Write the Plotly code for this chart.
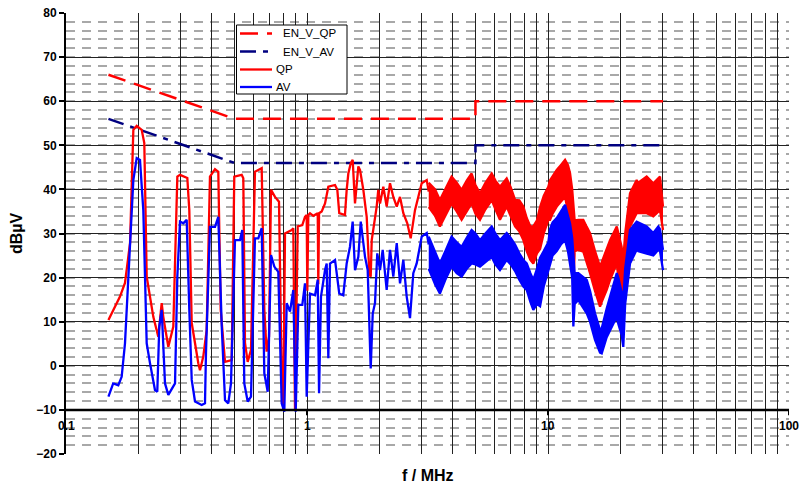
import math
import plotly.graph_objects as go

# ---------------- data ----------------
lim_f = [0.15, 0.5, 5.0, 5.0, 30.0]
en_v_qp = [66, 56, 56, 60, 60]
en_v_av = [56, 46, 46, 50, 50]

# QP measurement, low-frequency part (MHz, dBuV)
qp_f = [0.150, 0.1675, 0.1757, 0.1844, 0.1903, 0.1965, 0.2061, 0.2113, 0.2162, 0.2303,
        0.2415, 0.2495, 0.2533, 0.2658, 0.2788, 0.2897, 0.2972, 0.3187, 0.3248, 0.3324,
        0.3540, 0.3597, 0.3712, 0.3834, 0.3957, 0.4152, 0.4285, 0.4385, 0.4569, 0.4792,
        0.4870, 0.4992, 0.5358, 0.5441, 0.5530, 0.5674, 0.5856, 0.6083, 0.6487, 0.6651,
        0.6800, 0.6956, 0.7090, 0.7366, 0.7653, 0.7852, 0.7974, 0.8104, 0.8640, 0.8775,
        0.8918, 0.9151, 0.9562, 0.981, 0.997, 1.003, 1.0125, 1.029, 1.062, 1.108,
        1.114, 1.122, 1.151, 1.188, 1.214, 1.226, 1.307, 1.336, 1.361, 1.437,
        1.461, 1.484, 1.518, 1.547, 1.582, 1.633, 1.660, 1.713, 1.769, 1.814,
        1.838, 1.856, 1.946, 1.976, 2.009, 2.073, 2.141, 2.210, 2.281, 2.357,
        2.432, 2.510, 2.607, 2.693, 2.806, 2.896, 2.992, 3.139, 3.20]
qp_v = [10.4, 15.7, 18.8, 27.8, 53.5, 54.4, 53.5, 50.5, 20.2, 11.1,
        6.6, 14.2, 11.1, 4.3, 8.9, 42.9, 43.3, 42.6, 35.3, 9.7,
        0.6, -1.0, 2.1, 8.1, 42.9, 44.6, 44.0, 12.7, 0.9, 1.3,
        1.3, 42.9, 43.3, 42.5, 5.2, 0.9, 3.6, 44.0, 44.8, 12.7,
        3.2, 6.6, 39.9, 38.3, 37.2, -2.5, -10.0, 30.0, 30.8, 31.2,
        -10.0, 31.6, 31.9, 33.8, 34.2, 17.0, 34.2, 34.6, 34.0, 34.6,
        18.5, 34.6, 35.0, 36.8, 39.1, 40.6, 41.0, 39.9, 34.6, 34.2,
        39.9, 43.6, 45.9, 46.7, 36.8, 45.2, 44.4, 39.9, 33.8, 21.0,
        20.2, 28.5, 36.1, 39.9, 36.8, 40.6, 36.1, 41.4, 38.3, 36.1,
        38.3, 34.6, 32.3, 28.9, 35.3, 38.3, 41.4, 42.1, 39.5]

# AV measurement, low-frequency part
av_f = [0.150, 0.157, 0.1648, 0.1702, 0.1757, 0.1814, 0.1903, 0.1965, 0.2028, 0.2093,
        0.2162, 0.2231, 0.2340, 0.2392, 0.2438, 0.2495, 0.2575, 0.2658, 0.2746, 0.2834,
        0.2897, 0.2972, 0.3067, 0.3168, 0.3248, 0.3324, 0.3430, 0.3540, 0.3656, 0.3773,
        0.3809, 0.3957, 0.4152, 0.4285, 0.4428, 0.4569, 0.4714, 0.4837, 0.5026, 0.5272,
        0.5389, 0.5493, 0.5674, 0.5856, 0.6083, 0.6280, 0.6487, 0.6651, 0.6870, 0.7090,
        0.7317, 0.7602, 0.7852, 0.8050, 0.8238, 0.8502, 0.8775, 0.8977, 0.9204, 0.9562,
        0.981, 0.997, 1.029, 1.080, 1.108, 1.122, 1.143, 1.188, 1.207, 1.226,
        1.246, 1.307, 1.361, 1.414, 1.461, 1.508, 1.547, 1.582, 1.633, 1.671,
        1.741, 1.786, 1.838, 1.874, 1.915, 1.957, 2.009, 2.061, 2.141, 2.210,
        2.281, 2.357, 2.432, 2.510, 2.592, 2.675, 2.761, 2.852, 2.992, 3.139, 3.20]
av_v = [-7.0, -4.0, -4.4, -2.5, 5.1, 20.2, 42.1, 47.1, 46.7, 35.3,
        5.1, 0.6, -5.5, -5.9, 8.9, 12.7, -4.0, -6.6, -5.1, -4.0,
        20.2, 32.7, 32.3, 33.1, 12.7, -3.2, -8.1, -8.5, -8.9, -8.5,
        2.9, 31.5, 31.5, 33.8, 8.9, -7.8, -8.5, -4.0, 28.5, 28.5,
        30.8, -4.0, -8.1, -7.0, 28.9, 28.9, 31.2, -1.7, -5.9, 25.1,
        22.5, 21.3, -8.5, -10.4, 14.2, 12.3, 17.2, -10.4, 13.8, 13.8,
        18.7, -7.0, 16.4, 16.0, 19.5, -6.2, 15.7, 21.7, 23.2, 1.7,
        23.2, 24.0, 16.4, 16.0, 23.2, 27.0, 32.7, 21.7, 24.7, 32.7,
        24.7, 21.7, -0.6, 11.9, 14.2, 25.5, 21.7, 26.3, 17.2, 26.3,
        20.2, 27.8, 18.7, 24.0, 15.7, 10.8, 21.0, 23.2, 29.3, 30.1, 27.5]

# High-frequency part: dense band, upper / lower envelopes
band_f = [3.20, 3.40, 3.56, 3.75, 3.98, 4.18, 4.38, 4.60, 4.82, 5.00,
          5.22, 5.50, 5.84, 6.05, 6.32, 6.74, 7.00, 7.30, 7.60, 7.90,
          8.16, 8.45, 8.69, 9.00, 9.27, 9.60, 10.03, 10.2, 10.45, 10.87,
          11.3, 11.77, 12.1, 12.34, 12.6, 12.74, 12.9, 13.36, 14.01, 14.48,
          14.94, 15.67, 16.44, 16.71, 17.52, 18.09, 19.29, 19.58, 20.2, 20.53,
          20.9, 21.89, 23.33, 23.70, 25.67, 27.35, 28.69, 29.16, 30.0]
qp_hi = [41.5, 40.0, 37.6, 40.0, 42.9, 41.5, 39.9, 42.0, 43.6, 41.0,
         39.1, 41.5, 43.6, 42.0, 40.6, 42.5, 40.5, 37.6, 37.5, 36.1,
         33.5, 31.6, 31.6, 33.0, 36.0, 38.5, 40.6, 42.1, 43.0, 44.4,
         45.5, 46.7, 45.5, 43.7, 40.0, 36.0, 33.0, 33.1, 33.1, 31.5,
         30.1, 26.0, 22.5, 23.5, 26.3, 28.5, 31.6, 30.0, 27.0, 24.0,
         30.0, 39.1, 42.1, 41.5, 42.9, 41.4, 42.5, 42.9, 36.1]
qp_lo = [36.0, 34.0, 31.6, 34.0, 36.8, 35.0, 33.1, 35.0, 36.8, 34.5,
         33.1, 35.5, 37.6, 35.5, 33.1, 36.1, 34.0, 31.6, 30.5, 28.5,
         26.0, 24.0, 23.2, 25.5, 26.5, 30.0, 33.1, 33.1, 34.5, 36.1,
         37.2, 38.3, 35.0, 32.3, 28.0, 17.9, 26.0, 26.3, 25.9, 23.5,
         21.0, 17.0, 13.4, 14.5, 17.2, 19.5, 23.2, 20.0, 16.0, 13.4,
         22.0, 31.6, 34.6, 34.6, 34.6, 33.9, 35.0, 35.3, 30.8]
av_hi = [29.3, 26.0, 23.2, 26.0, 29.3, 28.0, 27.0, 29.0, 30.8, 30.0,
         28.5, 30.0, 31.6, 30.0, 28.5, 30.1, 29.0, 27.5, 25.5, 24.0,
         23.2, 21.0, 19.5, 22.0, 24.5, 26.0, 28.0, 31.0, 32.5, 33.5,
         35.0, 36.5, 34.0, 32.3, 29.0, 25.0, 21.0, 21.0, 20.0, 19.5,
         17.0, 11.9, 8.1, 8.5, 13.0, 15.7, 21.0, 20.0, 17.0, 15.0,
         22.0, 30.8, 32.7, 32.5, 31.6, 30.1, 31.6, 31.0, 26.3]
av_lo = [22.0, 18.5, 16.4, 19.5, 22.5, 21.0, 20.2, 22.0, 23.2, 23.0,
         22.5, 23.5, 24.7, 23.0, 21.7, 24.0, 23.0, 21.5, 19.5, 18.0,
         17.2, 14.5, 12.7, 14.0, 13.5, 18.0, 22.0, 23.0, 25.0, 26.0,
         27.5, 28.5, 26.0, 23.2, 20.0, 8.9, 14.0, 14.9, 13.0, 11.9,
         10.0, 5.9, 3.0, 2.8, 6.5, 8.1, 11.1, 9.5, 7.0, 4.3,
         14.0, 23.2, 26.3, 26.0, 25.5, 25.0, 26.3, 26.0, 21.7]

y_ticks = [-20, -10, 0, 10, 20, 30, 40, 50, 60, 70, 80]
x_labels = ["0.1", "1", "10", "100"]
x_label_pos = [0.1, 1, 10, 100]
legend_names = ["EN_V_QP", "EN_V_AV", "QP", "AV"]

# ---------------- styling ----------------
RED = "#ff0000"
BLUE = "#0000ff"
NAVY = "#000080"
FONT = "Liberation Sans, Arial, sans-serif"
QP_DASH = "18px,9px"
AV_DASH = "16px,7px,5px,7px"
LW = 2.3

ML, MR, MT, MB = 66, 12, 13, 32
W, H = 801, 486
PW, PH = W - ML - MR, H - MT - MB


def px_x(p):
    return (p - ML) / PW


def px_y(p):
    return (H - MB - p) / PH


fig = go.Figure()
fig.add_trace(go.Scatter(x=lim_f, y=en_v_qp, mode="lines", name=legend_names[0],
                         showlegend=False, line=dict(color=RED, width=2.5, dash=QP_DASH)))
fig.add_trace(go.Scatter(x=lim_f, y=en_v_av, mode="lines", name=legend_names[1],
                         showlegend=False, line=dict(color=NAVY, width=2.5, dash=AV_DASH)))
fig.add_trace(go.Scatter(x=qp_f, y=qp_v, mode="lines", name=legend_names[2],
                         showlegend=False, line=dict(color=RED, width=LW)))
fig.add_trace(go.Scatter(x=av_f, y=av_v, mode="lines", name=legend_names[3],
                         showlegend=False, line=dict(color=BLUE, width=LW)))
# dense bands
fig.add_trace(go.Scatter(x=band_f, y=qp_lo, mode="lines", showlegend=False,
                         line=dict(color=RED, width=LW)))
fig.add_trace(go.Scatter(x=band_f, y=qp_hi, mode="lines", showlegend=False,
                         fill="tonexty", fillcolor=RED, line=dict(color=RED, width=LW)))
fig.add_trace(go.Scatter(x=band_f, y=av_lo, mode="lines", showlegend=False,
                         line=dict(color=BLUE, width=LW)))
fig.add_trace(go.Scatter(x=band_f, y=av_hi, mode="lines", showlegend=False,
                         fill="tonexty", fillcolor=BLUE, line=dict(color=BLUE, width=LW)))

grid_x = []
for dec in [0.1, 1, 10]:
    for m in range(1, 10):
        grid_x.append(round(dec * m, 4))
grid_x.append(100)

fig.update_xaxes(type="log", range=[-1, 2], tickvals=grid_x, showticklabels=False,
                 ticks="", showgrid=True, gridcolor="#222222", gridwidth=1,
                 showline=False, zeroline=False, automargin=False)
fig.update_yaxes(range=[-20, 80], tickvals=y_ticks, showgrid=True, gridcolor="#222222",
                 gridwidth=1, zeroline=False, showline=True, linecolor="black", linewidth=2,
                 ticks="outside", ticklen=5, tickwidth=2, tickcolor="black", automargin=False,
                 tickfont=dict(family=FONT, size=12, color="black", weight="bold"),
                 minor=dict(dtick=2, showgrid=True, gridcolor="#a8a8a8", griddash="9px,7px",
                            gridwidth=1.5),
                 title=dict(text="dBµV", font=dict(family=FONT, size=16, color="black",
                                                   weight="bold"), standoff=10))

shapes = [dict(type="line", xref="paper", yref="y", x0=0, x1=1, y0=-10, y1=-10,
               line=dict(color="black", width=2.5), layer="above")]
for xv in [1, 10, 100]:
    shapes.append(dict(type="line", xref="x", yref="y", x0=xv, x1=xv, y0=-10, y1=-11.2,
                       line=dict(color="black", width=2), layer="above"))

annotations = []
for lab, xv in zip(x_labels, x_label_pos):
    annotations.append(dict(x=math.log10(xv), y=-13.6, xref="x", yref="y", text=lab,
                            showarrow=False,
                            font=dict(family=FONT, size=12, color="black", weight="bold")))
annotations.append(dict(x=0.5, y=px_y(475), xref="paper", yref="paper", text="f / MHz",
                        showarrow=False, yanchor="middle",
                        font=dict(family=FONT, size=16, color="black", weight="bold")))

# custom legend box (reference legend is tighter than plotly's)
shapes.append(dict(type="rect", xref="paper", yref="paper",
                   x0=px_x(236.5), x1=px_x(347), y0=px_y(25), y1=px_y(94),
                   fillcolor="white", line=dict(color="black", width=1), layer="above"))
leg_rows = [33.5, 51.5, 69.5, 87]
leg_styles = [dict(color=RED, width=2.5, dash=QP_DASH), dict(color=NAVY, width=2.5, dash=AV_DASH),
              dict(color=RED, width=LW), dict(color=BLUE, width=LW)]
leg_text_x = [281, 281, 274, 274]
for name, yy, st, tx in zip(legend_names, leg_rows, leg_styles, leg_text_x):
    shapes.append(dict(type="line", xref="paper", yref="paper", x0=px_x(240), x1=px_x(272),
                       y0=px_y(yy), y1=px_y(yy), line=st, layer="above"))
    annotations.append(dict(x=px_x(tx), y=px_y(yy), xref="paper", yref="paper", text=name,
                            showarrow=False, xanchor="left", yanchor="middle",
                            font=dict(family=FONT, size=11.5, color="black")))

fig.update_layout(
    width=W, height=H,
    margin=dict(l=ML, r=MR, t=MT, b=MB),
    plot_bgcolor="white", paper_bgcolor="white",
    shapes=shapes, annotations=annotations,
    showlegend=False,
)

fig.write_html("out.html", config={"displayModeBar": False},
               post_script="document.body.style.margin='0';document.body.style.overflow='hidden';")
